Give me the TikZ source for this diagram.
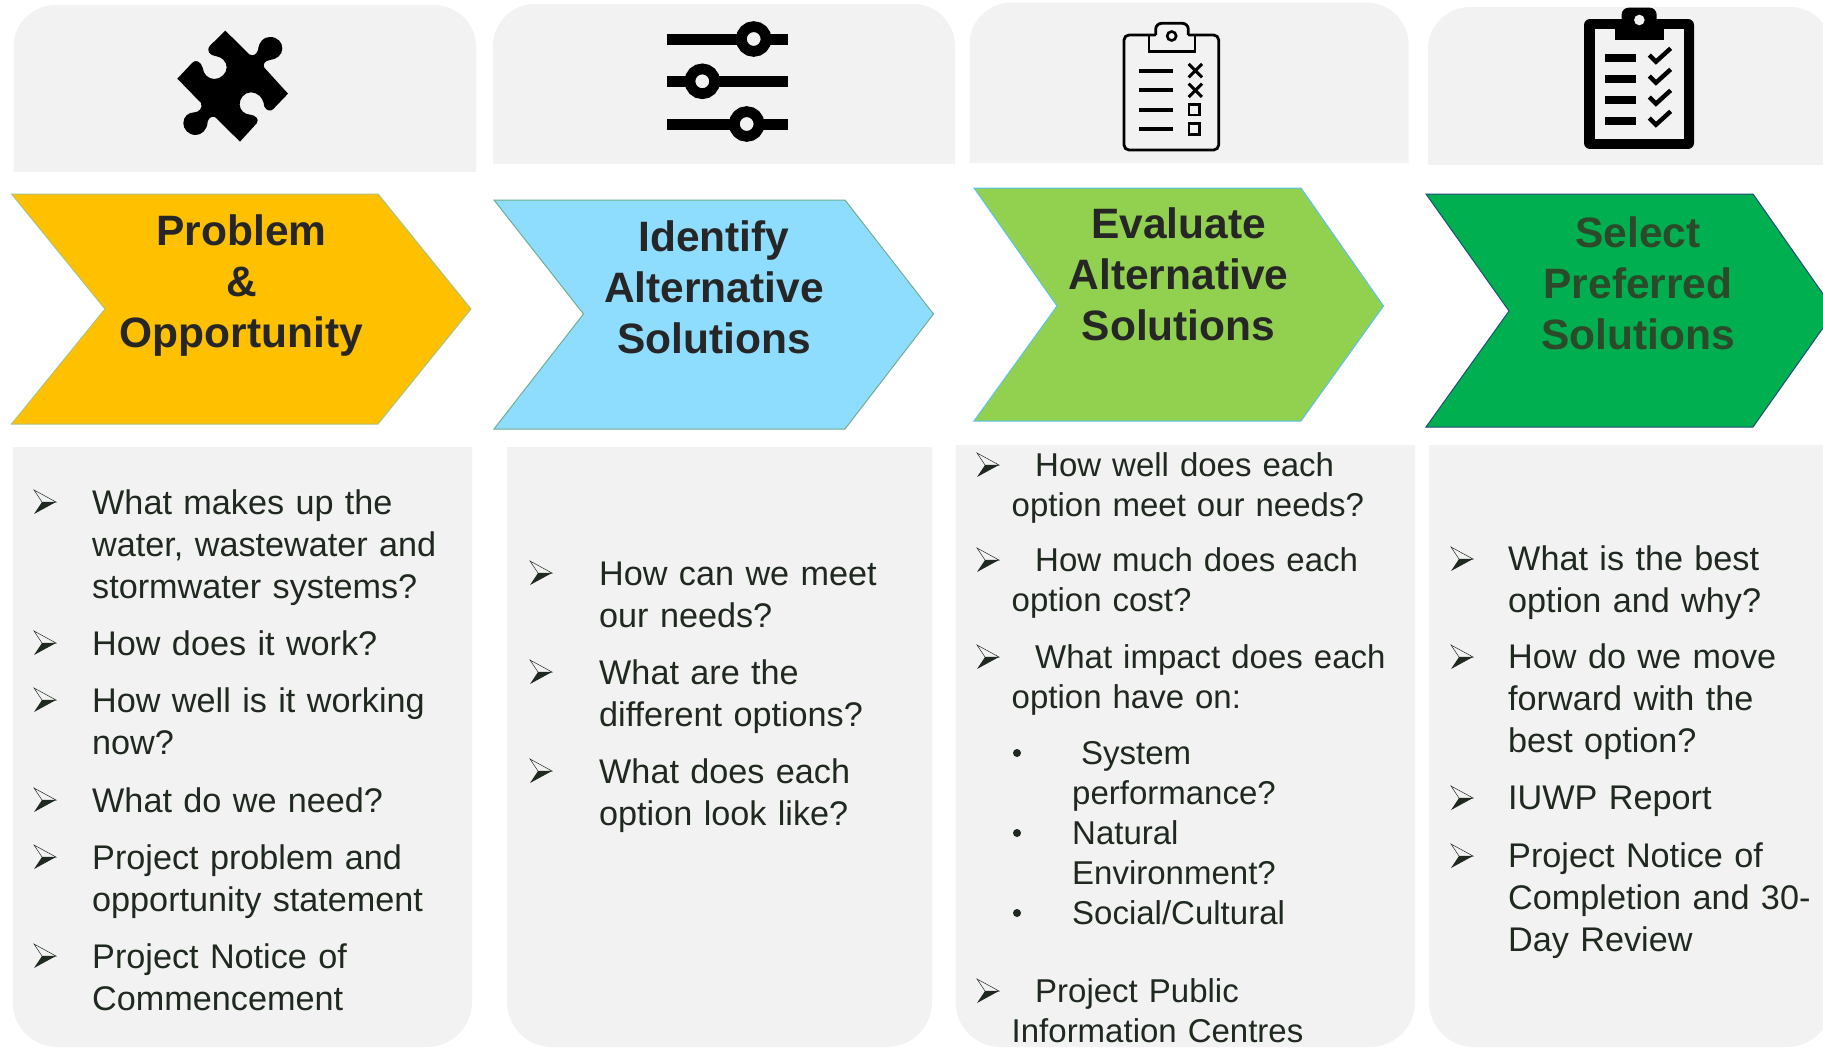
\documentclass[tikz,border=0pt]{standalone}
\usepackage{fontspec}
\setmainfont{Liberation Sans}

\definecolor{panelgrey}{HTML}{F2F2F2}
\definecolor{itemink}{HTML}{1F291F}
\definecolor{goldfill}{HTML}{FFC000}
\definecolor{goldline}{HTML}{A9C47F}
\definecolor{skyfill}{HTML}{8EDDFF}
\definecolor{skyline}{HTML}{6FAF8F}
\definecolor{limefill}{HTML}{92D050}
\definecolor{limeline}{HTML}{57C4EE}
\definecolor{greenfill}{HTML}{00B050}
\definecolor{greenline}{HTML}{1F4E79}
\definecolor{greenink}{HTML}{2C4A2A}

\tikzset{
	chevtext/.style={font=\fontsize{42.5}{51}\selectfont\bfseries, align=center, inner sep=0pt},
	itemtext/.style={anchor=base west, inner sep=0pt, text width=440pt, align=left, text=itemink, font=\fontsize{34.2}{42}\selectfont},
	itemsmall/.style={itemtext, font=\fontsize{33}{40}\selectfont},
	arrowmark/.pic={
		\draw[itemink, line width=0.5pt, fill=panelgrey] (0,-12) -- (22,0) -- (8,0) -- cycle;
		\fill[itemink] (0,12) -- (22,0) -- (8,0) -- cycle;
	},
}

\begin{document}
\begin{tikzpicture}[x=1pt, y=-1pt]
	\clip (0,0) rectangle (1823,1047);

	% icon panels
	\foreach \xa/\xb/\ya/\yb in {13.5/476/5/172, 493/955/4/164, 969.5/1408.5/2.5/163, 1428/1832/7/165} {
		\fill[panelgrey, rounded corners=42pt] (\xa,\yb+60) -- (\xa,\ya) -- (\xb,\ya) -- (\xb,\yb+60) -- cycle;
		\fill[white] (\xa-2,\yb) rectangle (\xb+2,\yb+62);
	}

	% text panels
	\foreach \xa/\xb/\ya in {12.5/472/447, 507/932/447, 955.5/1415/445, 1429/1832/445} {
		\fill[panelgrey, rounded corners=45pt] (\xa,\ya-60) -- (\xa,1047) -- (\xb,1047) -- (\xb,\ya-60) -- cycle;
		\fill[white] (\xa-2,\ya-62) rectangle (\xb+2,\ya);
	}

	% chevrons
	\foreach \xa/\xn/\xb/\xt/\ya/\ym/\yb/\cf/\cl in {
		11.6/105/378/471/194/309/424/goldfill/goldline,
		494/583.5/845/933.5/200/314/429/skyfill/skyline,
		974/1057/1301/1383.5/188/306/421/limefill/limeline,
		1426/1509/1753/1835/194/311/427/greenfill/greenline} {
		\draw[fill=\cf, draw=\cl, line width=1pt] (\xa,\ya) -- (\xb,\ya) -- (\xt,\ym) -- (\xb,\yb) -- (\xa,\yb) -- (\xn,\ym) -- cycle;
	}
	\node[chevtext, text=black!85] (chevA) at (241.5,285.5) {Problem\\\&\\Opportunity};
	\node[chevtext, text=black!85] (chevB) at (714,287) {Identify\\Alternative\\Solutions};
	\node[chevtext, text=black!85] (chevC) at (1178.5,274) {Evaluate\\Alternative\\Solutions};
	\node[chevtext, text=greenink] (chevD) at (1638,283) {Select\\Preferred\\Solutions};

	% puzzle piece
	\begin{scope}[shift={(165,15)}, x=0.3333pt, y=-0.3333pt]
		\fill[black] (181,47) -- (253,118) .. controls (265,125) and (275,118) .. (279,105)
		.. controls (282,80) and (295,66) .. (315,66) .. controls (338,66) and (352,82) .. (352,100)
		.. controls (352,120) and (335,133) .. (315,135) .. controls (300,137) and (292,148) .. (298,158)
		-- (369,236) -- (325,282) .. controls (318,290) and (305,288) .. (298,275)
		.. controls (295,245) and (275,232) .. (258,232) .. controls (238,232) and (224,250) .. (224,268)
		.. controls (224,285) and (238,298) .. (255,299) .. controls (270,300) and (285,312) .. (275,325)
		-- (225,380) -- (152,308) .. controls (145,302) and (132,305) .. (128,320)
		.. controls (127,345) and (110,360) .. (92,360) .. controls (70,360) and (55,342) .. (55,325)
		.. controls (55,305) and (70,292) .. (88,292) .. controls (100,292) and (115,280) .. (108,264)
		-- (37,191) -- (82,143) .. controls (92,132) and (108,140) .. (113,158)
		.. controls (115,178) and (130,192) .. (148,192) .. controls (168,192) and (185,175) .. (185,157)
		.. controls (185,140) and (170,126) .. (155,124) .. controls (135,122) and (122,108) .. (135,92) -- cycle;
	\end{scope}

	% sliders
	\foreach \cx/\y in {753.7/39, 702.3/81.3, 746.7/124} {
		\fill[black] (667,\y-5.5) rectangle (787.5,\y+5.5);
		\draw[black, fill=panelgrey, line width=10.7pt] (\cx,\y) circle (12.4pt);
	}

	% clipboard with crosses
	\begin{scope}[shift={(1110,15)}, x=0.3333pt, y=-0.3333pt]
		\draw[black, line width=2.8pt, rounded corners=5pt] (137,60) -- (42,60) -- (42,405) -- (326,405) -- (326,60) -- (235,60);
		\draw[black, line width=2.8pt, rounded corners=6pt] (137,60) -- (137,25) -- (235,25) -- (235,60);
		\draw[black, line width=2.8pt] (137,60) -- (117,60) -- (117,110) -- (255,110) -- (255,60) -- (235,60);
		\draw[black, line width=2.6pt] (185,63) circle (4.5pt);
		\foreach \y in {167,224,285,342} {
			\fill[black] (87,\y-6) rectangle (188,\y+6);
		}
		\foreach \y in {167,226} {
			\draw[black, line width=3pt] (236,\y-20) -- (276,\y+20) (276,\y-20) -- (236,\y+20);
		}
		\foreach \y in {284,342} {
			\draw[black, line width=2.8pt] (237,\y-16) rectangle (269,\y+16);
		}
	\end{scope}

	% clipboard with ticks
	\begin{scope}[shift={(1570,5)}, x=0.3333pt, y=-0.3333pt]
		\fill[black, rounded corners=6pt] (42,42) rectangle (372,432);
		\fill[panelgrey] (75,72) rectangle (342,402);
		\fill[black, rounded corners=7pt] (155,60) -- (155,8) -- (260,8) -- (260,60) -- cycle;
		\fill[black] (135,60) rectangle (282,104);
		\fill[panelgrey] (208,45) circle (5.3pt);
		\foreach \y in {0,63,126,189} {
			\fill[black] (105,147+\y) rectangle (198,172+\y);
			\draw[black, line width=4.4pt] (238,150+\y) -- (258,170+\y) -- (302,130+\y);
		}
	\end{scope}

	% first column
	\foreach \i/\y/\txt in {1/502/{What makes up the\\water, wastewater and\\stormwater systems?},
		2/643/{How does it work?}, 3/700/{How well is it working\\now?}, 4/800/{What do we need?},
		5/857/{Project problem and\\opportunity statement}, 6/956/{Project Notice of\\Commencement}} {
		\pic at (34,\y) {arrowmark};
		\node[itemtext] (itemA\i) at (92,\y+12) {\txt};
	}

	% second column
	\foreach \i/\y/\txt in {1/573/{How can we meet\\our needs?}, 2/672/{What are the\\different options?},
		3/771/{What does each\\option look like?}} {
		\pic at (530,\y) {arrowmark};
		\node[itemtext] (itemB\i) at (599,\y+12) {\txt};
	}

	% third column
	\foreach \i/\y/\txt in {1/465/{How well does each\\option meet our needs?}, 2/560/{How much does each\\option cost?},
		3/657/{What impact does each\\option have on:}, 4/991/{Project Public\\Information Centres}} {
		\pic at (977,\y) {arrowmark};
		\node[itemsmall] (itemC\i) at (1011.5,\y+11) {\hspace*{23.5pt}\txt};
	}
	\foreach \i/\y/\txt in {1/753/{\hspace*{9pt}System\\performance?}, 2/833/{Natural\\Environment?}, 3/913/{Social/Cultural}} {
		\fill[itemink] (1017,\y) circle (4pt);
		\node[itemsmall] (subC\i) at (1072,\y+11) {\txt};
	}

	% fourth column
	\foreach \i/\y/\txt in {1/559/{What is the best\\option and why?}, 2/657/{How do we move\\forward with the\\best option?},
		3/798/{IUWP Report}, 4/856/{Project Notice of\\Completion and 30-\\Day Review}} {
		\pic at (1451,\y) {arrowmark};
		\node[itemtext] (itemD\i) at (1508,\y+11.5) {\txt};
	}
\end{tikzpicture}
\end{document}
